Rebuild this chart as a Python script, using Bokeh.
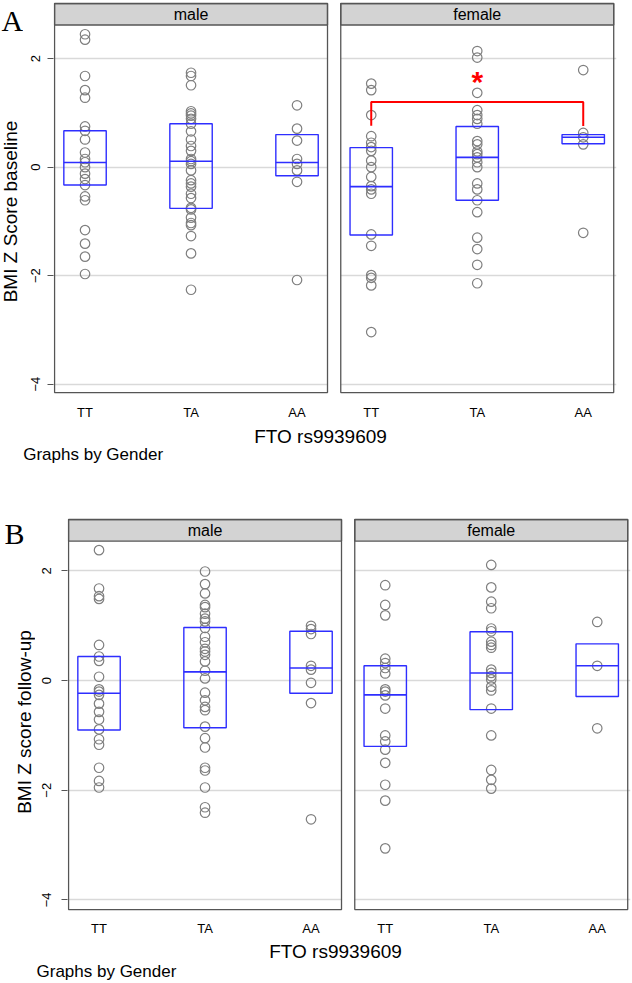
import math
from bokeh.plotting import figure
from bokeh.models import Label, FixedTicker, Range1d
from bokeh.layouts import column, row
from bokeh.embed import file_html
from bokeh.resources import INLINE
from bokeh.core.properties import value

# ---------------- data ----------------
genotypes = ["TT", "TA", "AA"]
genders = ["male", "female"]
y_ticks = [2, 0, -2, -4]
x_title = "FTO rs9939609"
note_text = "Graphs by Gender"
ylabel_a = "BMI Z Score baseline"
ylabel_b = "BMI Z score follow-up"

# Panel A: BMI Z score baseline
a_male_TT = [2.45, 2.35, 1.68, 1.42, 1.28, 0.75, 0.67, 0.51, 0.27, 0.15, 0.09, 0.00,
             -0.12, -0.22, -0.33, -0.54, -0.61, -1.16, -1.41, -1.65, -1.97]
a_male_TA = [1.74, 1.68, 1.51, 1.03, 0.99, 0.95, 0.89, 0.80, 0.66, 0.51, 0.39, 0.30,
             0.15, 0.11, 0.06, -0.06, -0.24, -0.30, -0.36, -0.49, -0.57, -0.75, -0.78,
             -0.93, -1.03, -1.07, -1.27, -1.59, -2.26]
a_male_AA = [1.14, 0.71, 0.49, 0.15, 0.06, -0.06, -0.27, -2.08]
a_female_TT = [1.54, 1.42, 0.96, 0.57, 0.45, 0.37, 0.30, 0.12, 0.00, -0.18, -0.35,
               -0.41, -0.49, -1.24, -1.45, -1.99, -2.04, -2.18, -3.04]
a_female_TA = [2.14, 2.02, 1.37, 1.05, 0.96, 0.89, 0.80, 0.48, 0.42, 0.29, 0.24, 0.18,
               0.09, 0.00, -0.30, -0.41, -0.61, -0.83, -1.30, -1.51, -1.80, -2.14]
a_female_AA = [1.79, 0.63, 0.55, 0.42, -1.21]
# box stats, order: male TT, TA, AA, female TT, TA, AA
a_q1 = [-0.33, -0.76, -0.16, -1.25, -0.61, 0.43]
a_med = [0.085, 0.11, 0.085, -0.36, 0.18, 0.55]
a_q3 = [0.67, 0.80, 0.60, 0.36, 0.75, 0.60]

# Panel B: BMI Z score follow-up
b_male_TT = [2.38, 1.68, 1.54, 1.49, 0.65, 0.44, 0.36, 0.07, -0.16, -0.20, -0.26,
             -0.42, -0.57, -0.71, -0.89, -1.07, -1.17, -1.59, -1.83, -1.95]
b_male_TA = [1.99, 1.76, 1.59, 1.38, 1.34, 1.22, 1.13, 1.08, 0.96, 0.80, 0.70, 0.58,
             0.53, 0.47, 0.35, 0.18, 0.04, -0.22, -0.36, -0.48, -0.54, -0.84, -1.05,
             -1.22, -1.59, -1.64, -1.95, -2.31, -2.41]
b_male_AA = [1.00, 0.94, 0.85, 0.27, 0.20, -0.04, -0.41, -2.53]
b_female_TT = [1.74, 1.38, 1.19, 0.40, 0.32, 0.23, 0.13, -0.16, -0.20, -0.27, -0.51,
               -1.00, -1.11, -1.26, -1.50, -1.90, -2.19, -3.06]
b_female_TA = [2.11, 1.70, 1.44, 1.32, 0.95, 0.90, 0.71, 0.65, 0.60, 0.20, 0.14, 0.08,
               0.02, -0.11, -0.18, -0.51, -1.00, -1.63, -1.81, -1.97]
b_female_AA = [1.07, 0.27, -0.87]
b_q1 = [-0.90, -0.86, -0.23, -1.20, -0.53, -0.29]
b_med = [-0.23, 0.16, 0.23, -0.26, 0.14, 0.27]
b_q3 = [0.44, 0.97, 0.90, 0.27, 0.89, 0.67]

# significance marker in panel A (female): TT vs AA
sig_gender = "female"
sig_from, sig_to, sig_star_at = "TT", "AA", "TA"
sig_bar_y = 1.2
sig_drop_y = [0.765, 0.76]
sig_star_y = 1.63

# ---------------- styling / layout ----------------
FONT = "Liberation Sans"
SERIF = "Liberation Serif"
BLUE = "#2e2eff"
GRAY_PT = "#7f7f7f"
BORDER = "#555555"
STRIP = "#d3d3d3"
GRID = "#d9d9d9"
FACET_SHIFT = 2.7    # distance (x units) between the two facets' first category
FACET_HALF = 1.2875  # half width of a facet in x units
BOX_W = 0.4
PX_PER_UNIT = 106.0


def no_align(p):
    if "frame_align" in p.properties():
        p.frame_align = False
    return p


def xpos(gender, geno):
    return genotypes.index(geno) + 1 + genders.index(gender) * FACET_SHIFT


def build_main(groups, q1, med, q3, y_panel_lo, y_strip, y_panel_hi, y_lo, y_hi,
               width, height, b_left, b_right, b_top, b_bottom,
               ytick_standoff, xtick_standoff):
    x_start = 2 - FACET_HALF - 0.01
    frame_w = width - b_left - b_right
    x_end = x_start + frame_w / PX_PER_UNIT
    p = figure(width=width, height=height, x_range=Range1d(x_start, x_end),
               y_range=Range1d(y_lo, y_hi), output_backend="svg",
               toolbar_location=None, min_border_left=b_left,
               min_border_right=b_right, min_border_top=b_top,
               min_border_bottom=b_bottom, title=None)
    no_align(p)
    p.outline_line_color = None
    p.background_fill_color = "white"
    p.border_fill_color = "white"
    p.xgrid.visible = False
    p.ygrid.ticker = FixedTicker(ticks=y_ticks)
    p.ygrid.grid_line_color = GRID
    p.ygrid.grid_line_width = 1.3

    centers = [2 + i * FACET_SHIFT for i in range(len(genders))]
    lefts = [c - FACET_HALF for c in centers]
    rights = [c + FACET_HALF for c in centers]

    # white gap between the facets
    p.quad(left=[rights[0]], right=[lefts[1]], bottom=[y_lo], top=[y_hi],
           fill_color="white", line_color=None)

    xs, ys, bx = [], [], []
    for g in genders:
        for k in genotypes:
            vals = groups[(g, k)]
            xs += [xpos(g, k)] * len(vals)
            ys += vals
            bx.append(xpos(g, k))
    p.scatter(x=xs, y=ys, marker="circle", size=9.5, fill_color=None,
              line_color=GRAY_PT, line_width=1.2)

    p.quad(left=[x - BOX_W / 2 for x in bx], right=[x + BOX_W / 2 for x in bx],
           bottom=q1, top=q3, fill_color=None, line_color=BLUE, line_width=1.4)
    p.segment(x0=[x - BOX_W / 2 for x in bx], x1=[x + BOX_W / 2 for x in bx],
              y0=med, y1=med, line_color=BLUE, line_width=1.6)

    # facet strips and borders
    p.quad(left=lefts, right=rights, bottom=[y_strip] * 2, top=[y_panel_hi] * 2,
           fill_color=STRIP, line_color=BORDER, line_width=1.3)
    p.quad(left=lefts, right=rights, bottom=[y_panel_lo] * 2, top=[y_panel_hi] * 2,
           fill_color=None, line_color=BORDER, line_width=1.3)
    p.text(x=centers, y=[(y_strip + y_panel_hi) / 2] * 2, text=genders,
           text_align="center", text_baseline="middle",
           text_font=value(FONT), text_font_size=value("16px"), text_color="black")

    ya = p.yaxis[0]
    ya.ticker = FixedTicker(ticks=y_ticks)
    ya.major_label_orientation = "vertical"
    ya.axis_line_color = None
    ya.major_tick_line_color = BORDER
    ya.major_tick_out = 6
    ya.major_tick_in = 0
    ya.minor_tick_line_color = None
    ya.major_label_standoff = ytick_standoff
    ya.major_label_text_font = FONT
    ya.major_label_text_font_size = "13px"
    ya.major_label_text_color = "black"

    tick_lab = [k for g in genders for k in genotypes]
    xa = p.xaxis[0]
    xa.ticker = FixedTicker(ticks=bx)
    xa.major_label_overrides = {t: l for t, l in zip(bx, tick_lab)}
    xa.axis_line_color = None
    xa.major_tick_line_color = None
    xa.minor_tick_line_color = None
    xa.major_label_standoff = xtick_standoff
    xa.major_label_text_font = FONT
    xa.major_label_text_font_size = "13px"
    xa.major_label_text_color = "black"
    return p


def build_aux(width, height, b_top=0, b_bottom=0):
    p = figure(width=width, height=height, x_range=Range1d(0, 1), y_range=Range1d(0, 1),
               output_backend="svg", toolbar_location=None, x_axis_location=None,
               y_axis_location=None, min_border_left=0, min_border_right=0,
               min_border_top=b_top, min_border_bottom=b_bottom, title=None)
    no_align(p)
    p.outline_line_color = None
    p.grid.visible = False
    p.background_fill_color = "white"
    p.border_fill_color = "white"
    return p


def add_label(p, x, y, text, size, font=FONT, align="left", angle=0.0):
    p.add_layout(Label(x=x, y=y, x_units="screen", y_units="screen", text=text,
                       angle=angle, text_align=align, text_baseline="middle",
                       text_font=font, text_font_size=size, text_color="black"))


groups_a = {("male", "TT"): a_male_TT, ("male", "TA"): a_male_TA, ("male", "AA"): a_male_AA,
            ("female", "TT"): a_female_TT, ("female", "TA"): a_female_TA,
            ("female", "AA"): a_female_AA}
groups_b = {("male", "TT"): b_male_TT, ("male", "TA"): b_male_TA, ("male", "AA"): b_male_AA,
            ("female", "TT"): b_female_TT, ("female", "TA"): b_female_TA,
            ("female", "AA"): b_female_AA}

# ---- panel A ----
mainA = build_main(groups_a, a_q1, a_med, a_q3,
                   y_panel_lo=-4.155, y_strip=2.62, y_panel_hi=3.017,
                   y_lo=-4.191, y_hi=3.035,
                   width=609, height=422, b_left=30, b_right=16, b_top=2, b_bottom=20,
                   ytick_standoff=7, xtick_standoff=4)
xa0, xa1 = xpos(sig_gender, sig_from), xpos(sig_gender, sig_to)
xst = xpos(sig_gender, sig_star_at)
mainA.line(x=[xa0, xa0, xa1, xa1], y=[sig_drop_y[0], sig_bar_y, sig_bar_y, sig_drop_y[1]],
           line_color="red", line_width=2)
mainA.text(x=[xst], y=[sig_star_y], text=["*"], text_align="center",
           text_baseline="middle", y_offset=3,
           text_font=value(FONT), text_font_size=value("30px"),
           text_font_style="bold", text_color="red")

leftA = build_aux(23, 422, b_top=2, b_bottom=20)
add_label(leftA, 1, 382, "A", "30px", font=SERIF)
add_label(leftA, 10, 191, ylabel_a, "19px", align="center", angle=math.pi / 2)

botA = build_aux(632, 96)
add_label(botA, 320, 82, x_title, "19px", align="center")
add_label(botA, 22.7, 64.5, note_text, "17px")

# ---- panel B ----
mainB = build_main(groups_b, b_q1, b_med, b_q3,
                   y_panel_lo=-4.176, y_strip=2.545, y_panel_hi=2.939,
                   y_lo=-4.212, y_hi=2.957,
                   width=597, height=420, b_left=32, b_right=2, b_top=0, b_bottom=20,
                   ytick_standoff=10, xtick_standoff=3)

leftB = build_aux(35, 420, b_top=0, b_bottom=20)
add_label(leftB, 4, 385, "B", "30px", font=SERIF)
add_label(leftB, 24, 196.5, ylabel_b, "19px", align="center", angle=math.pi / 2)

botB = build_aux(632, 44)
add_label(botB, 335, 31.5, x_title, "19px", align="center")
add_label(botB, 36, 11, note_text, "17px")

layout = column(row(leftA, mainA, spacing=0), botA, row(leftB, mainB, spacing=0), botB,
                spacing=0)
open("out.html", "w").write(file_html(layout, INLINE))
